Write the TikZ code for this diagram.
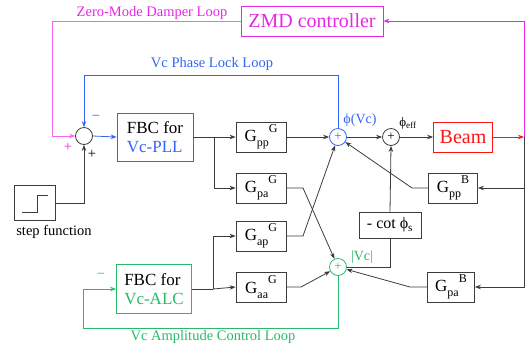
\documentclass[tikz,border=0pt]{standalone}
\usepackage{fontspec}
\setmainfont{Liberation Serif}
\usetikzlibrary{arrows.meta}
\definecolor{magtxt}{RGB}{230,40,230}
\definecolor{magln}{RGB}{245,100,240}
\definecolor{bluc}{RGB}{50,100,250}
\definecolor{grnc}{RGB}{40,185,105}
\definecolor{redc}{RGB}{255,20,20}
\definecolor{redln}{RGB}{255,90,90}
\definecolor{lnc}{RGB}{60,60,60}
\newcommand{\gsym}[2]{G\raisebox{-0.3em}{\fontsize{12}{12}\selectfont #1}\raisebox{0.55em}{\fontsize{12}{12}\selectfont #2}}
\begin{document}
\begin{tikzpicture}[x=1pt,y=-1pt,
  box/.style={draw=lnc,line width=0.8pt,inner sep=0pt,minimum width=50pt,minimum height=30pt,font=\fontsize{17}{19}\selectfont},
  sumc/.style={draw=lnc,circle,line width=0.8pt,minimum size=17pt,inner sep=0pt,font=\fontsize{13}{13}\selectfont},
  lbl/.style={inner sep=0pt,font=\fontsize{14.5}{16}\selectfont},
  wire/.style={draw=lnc,line width=0.8pt},
  arr/.style={wire,-{Stealth[length=6pt,width=4.5pt]}}]
\useasboundingbox (0,0) rectangle (526,349);
% nodes
\node[box,draw=magtxt,text=magtxt,minimum width=142pt,font=\fontsize{20}{22}\selectfont] (zmd) at (312,21) {ZMD controller};
\node[lbl,text=magtxt] (zmdl) at (152,13) {Zero-Mode Damper Loop};
\node[lbl,text=bluc] (plll) at (212,64) {Vc Phase Lock Loop};
\node[lbl,text=grnc] (alcl) at (213,337) {Vc Amplitude Control Loop};
\node[sumc] (s1) at (84,136) {};
\node[box,draw=bluc,minimum width=76pt,minimum height=48pt,align=left] (fbcp) at (155,137) {FBC for\\\textcolor{bluc}{Vc-PLL}};
\node[box,minimum width=41pt,minimum height=35pt] (step) at (35,203) {};
\draw[wire] (22,212) -- (37,212) -- (37,195) -- (48,195);
\node[lbl] (stepl) at (54,232) {step function};
\node[box] (gppG) at (261,137) {\gsym{pp}{G}};
\node[box] (gpaG) at (261,188) {\gsym{pa}{G}};
\node[box] (gapG) at (261,236) {\gsym{ap}{G}};
\node[box] (gaaG) at (261,287) {\gsym{aa}{G}};
\node[box,draw=grnc,minimum width=75pt,minimum height=49pt,align=left] (fbca) at (154,289) {FBC for\\\textcolor{grnc}{Vc-ALC}};
\node[sumc,draw=bluc,text=bluc] (sB) at (338,137) {+};
\node[sumc] (s2) at (391,137) {+};
\node[sumc,draw=grnc,text=grnc] (sG) at (338,267) {+};
\node[box,draw=redc,text=redc,minimum width=59pt,font=\fontsize{20}{22}\selectfont] (beam) at (463,137) {Beam};
\node[box,minimum width=49pt] (gppB) at (453,188) {\gsym{pp}{B}};
\node[box,minimum width=47pt] (gpaB) at (451,287) {\gsym{pa}{B}};
\node[box,minimum width=62pt,minimum height=26pt,font=\fontsize{16}{18}\selectfont] (cot) at (390,225) {- cot ϕ\textsubscript{s}};
\node[lbl,text=bluc,font=\fontsize{14}{16}\selectfont] (phivc) at (360,120) {ϕ(Vc)};
\node[lbl,font=\fontsize{13}{15}\selectfont] (phieff) at (408,123) {ϕ\textsubscript{eff}};
\node[lbl,text=grnc,font=\fontsize{14}{15}\selectfont] (vcl) at (362,257) {|Vc|};
\node[lbl,text=bluc] (mB) at (96,118) {\textminus};
\node[lbl,text=magtxt] (pM) at (68,147) {+};
\node[lbl] (pK) at (92,154) {+};
\node[lbl,text=grnc] (mG) at (101,276) {\textminus};
% coordinates
\coordinate (ml) at (52,21);
\coordinate (pl) at (84,75);
\coordinate (rt) at (524,21);
\coordinate (rb) at (524,137);
\coordinate (rd) at (524,288);
\coordinate (gl) at (83,328);
\coordinate (bp) at (214,137);
\coordinate (ba) at (213,289);
% magenta loop
\draw[wire,draw=magln] (zmd.west) -- (ml) -- (ml |- s1);
\draw[arr,draw=magln,color=magln] (ml |- s1) -- (s1.west);
\draw[arr,draw=magln,color=magtxt] (rb) -- (rt) -- (zmd.east);
\draw[arr,draw=redln,color=redc] (beam.east) -- (rb);
\draw[wire] (rb) -- (rd);
% blue loop
\draw[arr,draw=bluc,color=bluc] (sB.north) -- (sB.north |- pl) -- (pl) -- (s1.north);
\draw[arr,draw=bluc,color=bluc] (s1.east) -- (fbcp.west);
% step
\draw[arr] (step.east) -- (s1 |- step.east) -- (s1.south);
% PLL branches
\draw[wire] (fbcp.east) -- (bp);
\draw[arr] (bp) -- (gppG.west);
\draw[arr] (bp) |- (gpaG.west);
% ALC branches
\draw[wire] (fbca.east) -- (ba);
\draw[arr] (ba) -- (gaaG.west);
\draw[arr] (ba) |- (gapG.west);
% cross connections
\draw[arr] (gppG.east) -- (sB.west);
\draw[arr] (gpaG.east) -- (303,188) -- (sG);
\draw[arr] (gapG.east) -- (303,236) -- (sB);
\draw[arr] (gaaG.east) -- (301,287) -- (sG);
\draw[arr] (gppB.west) -- (412,188) -- (sB);
\draw[arr] (gpaB.west) -- (410,287) -- (sG);
\draw[arr] (gppB.east -| rb) -- (gppB.east);
\draw[arr] (gpaB.east -| rb) -- (gpaB.east);
% main path
\draw[arr] (sB.east) -- (s2.west);
\draw[arr] (s2.east) -- (beam.west);
\draw[arr] (cot.north) -- (s2.south);
\draw[wire] (sG.east) -- (sG.east -| cot.south) -- (cot.south);
% green loop
\draw[arr,draw=grnc,color=grnc] (sG.south) -- (sG.south |- gl) -- (gl) -- (gl |- fbca.west) -- (fbca.west);
\end{tikzpicture}
\end{document}
